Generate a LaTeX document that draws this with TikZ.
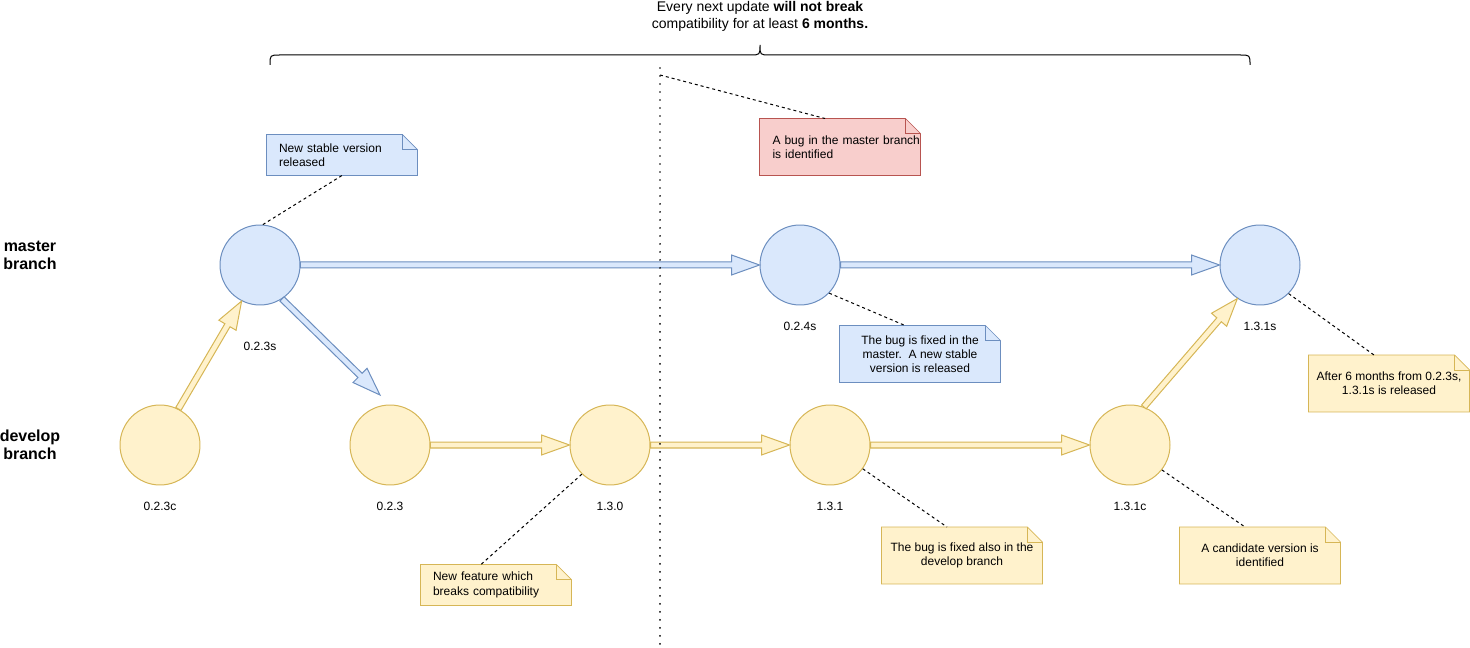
\documentclass[tikz,border=0pt]{standalone}
\usepackage{fontspec}
\setmainfont{Liberation Sans}
\usetikzlibrary{calc, positioning, backgrounds}

\definecolor{masterfill}{HTML}{DAE8FC}
\definecolor{masterline}{HTML}{6C8EBF}
\definecolor{developfill}{HTML}{FFF2CC}
\definecolor{developline}{HTML}{D6B656}
\definecolor{bugfill}{HTML}{F8CECC}
\definecolor{bugline}{HTML}{B85450}

\newcommand{\diagfont}{\fontsize{6.83pt}{8.1pt}\selectfont}
\newcommand{\headfont}{\fontsize{7.97pt}{9.6pt}\selectfont}
\newcommand{\branchfont}{\fontsize{9.1pt}{10.3pt}\selectfont}

\newcommand{\flexarrow}[3]{%
  \filldraw[#1] ($(#2)!0.06cm!90:(#3)$)
    -- ($(#3)!0.56cm!(#2)!0.06cm!-90:(#2)$)
    -- ($(#3)!0.56cm!(#2)!0.2cm!-90:(#2)$)
    -- (#3)
    -- ($(#3)!0.56cm!(#2)!0.2cm!90:(#2)$)
    -- ($(#3)!0.56cm!(#2)!0.06cm!90:(#2)$)
    -- ($(#2)!0.06cm!-90:(#3)$) -- cycle;}

\newcommand{\notebg}[3]{%
  \begin{scope}[on background layer]
    \filldraw[fill=#2, draw=#3] (#1.south west) -- (#1.north west)
      -- ([xshift=-0.3cm]#1.north east) -- ([yshift=-0.3cm]#1.north east)
      -- (#1.south east) -- cycle;
    \draw[#3] ([xshift=-0.3cm]#1.north east) |- ([yshift=-0.3cm]#1.north east);
  \end{scope}}

\begin{document}
\begin{tikzpicture}[x=0.02cm, y=-0.02cm, line width=0.57pt, node distance=0.33cm]
    \tikzstyle{master} = [circle, draw=masterline, fill=masterfill, minimum size=1.6cm, inner sep=0pt]
    \tikzstyle{develop} = [circle, draw=developline, fill=developfill, minimum size=1.6cm, inner sep=0pt]
    \tikzstyle{version} = [inner sep=0pt, font=\diagfont]
    \tikzstyle{branch} = [inner sep=0pt, align=center, font=\branchfont\bfseries]
    \tikzstyle{note} = [rectangle, inner sep=0pt, minimum width=3.2cm, minimum height=1.12cm, align=center, font=\diagfont]
    \tikzstyle{smallnote} = [note, minimum width=3cm, minimum height=0.8cm, align=left, text width=2.52cm]
    \tikzstyle{tether} = [draw=black, dash pattern=on 0.06cm off 0.06cm]
    \tikzstyle{divider} = [draw=black, line width=1.1pt, dash pattern=on 0pt off 0.16cm, line cap=round]
    \tikzstyle{masterflow} = [draw=masterline, fill=masterfill]
    \tikzstyle{developflow} = [draw=developline, fill=developfill]

    \useasboundingbox (0,0) rectangle (1470,648);

    \node [inner sep=0pt, align=center, font=\headfont] (headline) at (760,16.5) {Every next update \textbf{will not break}\\compatibility for at least \textbf{6 months.}};
    \draw (270,65) .. controls (270,55) .. (280,55) -- (750,55) .. controls (760,55) .. (760,45)
      .. controls (760,55) .. (770,55) -- (1240,55) .. controls (1250,55) .. (1250,65);

    \node [branch] (mbranch) at (30,255) {master\\branch};
    \node [branch] (dbranch) at (30,445) {develop\\branch};

    \node [master] (s023) at (260,265) {};
    \node [master] (s024) at (800,265) {};
    \node [master] (s131) at (1260,265) {};
    \node [develop] (d023c) at (160,445) {};
    \node [develop] (d023) at (390,445) {};
    \node [develop] (d130) at (610,445) {};
    \node [develop] (d131) at (830,445) {};
    \node [develop] (d131c) at (1130,445) {};
    \coordinate (d023tip) at (380,395);

    \node [version, below=0.73cm of s023] (v023s) {0.2.3s};
    \node [version, below=of s024] (v024s) {0.2.4s};
    \node [version, below=of s131] (v131s) {1.3.1s};
    \node [version, below=of d023c] (v023c) {0.2.3c};
    \node [version, below=of d023] (v023) {0.2.3};
    \node [version, below=of d130] (v130) {1.3.0};
    \node [version, below=of d131] (v131) {1.3.1};
    \node [version, below=of d131c] (v131c) {1.3.1c};

    \flexarrow{masterflow}{s023.east}{s024.west}
    \flexarrow{masterflow}{s024.east}{s131.west}
    \flexarrow{masterflow}{s023.-57}{d023tip}
    \flexarrow{developflow}{d023c.63}{s023.-117}
    \flexarrow{developflow}{d023.east}{d130.west}
    \flexarrow{developflow}{d130.east}{d131.west}
    \flexarrow{developflow}{d131.east}{d131c.west}
    \flexarrow{developflow}{d131c.70}{s131.-124}

    \node [smallnote] (nstable) at (342,155) {New stable version\\released};
    \node [note, align=left, text width=2.7cm] (nbug) at (840,147) {\mbox{A bug in the master branch}\\is identified};
    \node [note] (nfixm) at (920,354) {The bug is fixed in the\\master.\ \ A new stable\\version is released};
    \node [note] (nafter) at (1389,383.5) {After 6 months from 0.2.3s,\\1.3.1s is released};
    \node [smallnote] (nfeat) at (496,585) {New feature which\\breaks compatibility};
    \node [note] (nfixd) at (962,555.5) {The bug is fixed also in the\\develop branch};
    \node [note] (ncand) at (1260,555.5) {A candidate version is\\identified};

    \foreach \nm/\tone in {nstable/master, nbug/bug, nfixm/master, nafter/develop, nfeat/develop, nfixd/develop, ncand/develop}
      {\notebg{\nm}{\tone fill}{\tone line}}

    \draw [divider] (660,68) -- (660,645);
    \coordinate (bugmark) at (660,75);

    \draw [tether] (s023.86) -- (nstable.south);
    \draw [tether] (bugmark) -- ([xshift=-0.3cm]nbug.north);
    \draw [tether] (s024.-44) -- ([xshift=-0.3cm]nfixm.north);
    \draw [tether] (s131.-45) -- ([xshift=-0.3cm]nafter.north);
    \draw [tether] (d130.-134) -- ([xshift=-0.3cm]nfeat.north);
    \draw [tether] (d131.-36) -- ([xshift=-0.3cm]nfixd.north);
    \draw [tether] (d131c.-38) -- ([xshift=-0.3cm]ncand.north);
\end{tikzpicture}
\end{document}
